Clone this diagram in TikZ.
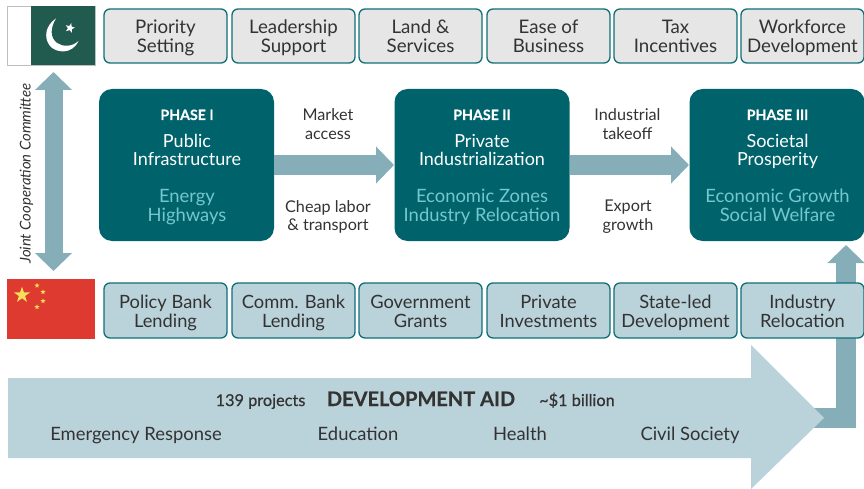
\documentclass[tikz,border=0pt]{standalone}
\usepackage{fontspec}
\setmainfont{Lato}
\usetikzlibrary{arrows.meta,shapes.geometric,calc}
\definecolor{tealdk}{HTML}{00636B}
\definecolor{tealln}{HTML}{0F6F78}
\definecolor{arrowc}{HTML}{86AEB9}
\definecolor{lightc}{HTML}{BAD2D9}
\definecolor{greyc}{HTML}{E6E6E6}
\definecolor{txt}{HTML}{333333}
\definecolor{cyanc}{HTML}{74C6D0}
\definecolor{pkgreen}{HTML}{215A4E}
\definecolor{cnred}{HTML}{DF3A30}
\definecolor{cnyel}{HTML}{F6DF5A}
\newcommand{\twol}[2]{\rule{0pt}{20pt}#1\\#2\rule[-5.5pt]{0pt}{5.5pt}}
\newcommand{\fsz}[1]{\fontsize{#1}{18.5}\selectfont}
\tikzset{
 every node/.style={text=txt,font=\fsz{18},align=center,inner sep=0pt,outer sep=0pt},
 topbox/.style={draw=tealln,line width=1.3pt,rounded corners=6pt,fill=greyc,minimum width=123pt,minimum height=54pt,font=\fsz{18.7}},
 botbox/.style={topbox,fill=lightc,minimum height=55pt,font=\fsz{18.3}},
 phasebox/.style={fill=tealdk,rounded corners=13pt,minimum width=175pt,minimum height=152pt},
 flow/.style={arrowc,line width=20pt,shorten >=0.5pt,-{Triangle[length=18pt,width=36pt]}},
 lab/.style={font=\fsz{16.2}},
 ph/.style={text=white,anchor=base,font=\fontsize{14.2}{14}\selectfont\addfontfeature{FakeBold=0.3}\bfseries},
 ptitle/.style={text=white,font=\fsz{18}},
 psub/.style={text=cyanc,font=\fsz{18.4}},
 aid/.style={anchor=base,font=\fontsize{18.4}{18}\selectfont},
 aidmed/.style={anchor=base,font=\fontsize{16.3}{16}\selectfont\addfontfeature{FakeBold=0.5}}
}
\begin{document}
\lineskiplimit=-100pt
\begin{tikzpicture}[x=1pt,y=-1pt]
\useasboundingbox (0,0) rectangle (864,489);
% flags
\node[draw=black!25,line width=.6pt,fill=white,minimum width=88pt,minimum height=59pt,anchor=north west] (pk) at (7,6) {};
\fill[pkgreen] (31,6) rectangle (95,65);
\fill[white] (78.5,41) .. controls (72,55) and (56,53) .. (50,46) .. controls (43,37) and (46,25) .. (56,18.5) .. controls (50,28) and (50,38) .. (57,43) .. controls (63,47) and (72,47) .. (78.5,41) -- cycle;
\node[star,star points=5,star point ratio=2.4,fill=white,minimum size=10pt,rotate=-15] (pkstar) at (70,28) {};
\node[fill=cnred,minimum width=88pt,minimum height=60pt,anchor=north west] (cn) at (7,279) {};
\node[star,star points=5,star point ratio=2.6,fill=cnyel,minimum size=17pt] (s0) at (22,295) {};
\node[star,star points=5,star point ratio=2.4,fill=cnyel,minimum size=5.5pt] (s1) at (37,285.5) {};
\node[star,star points=5,star point ratio=2.4,fill=cnyel,minimum size=5.5pt] (s2) at (43,292) {};
\node[star,star points=5,star point ratio=2.4,fill=cnyel,minimum size=5.5pt] (s3) at (43,301) {};
\node[star,star points=5,star point ratio=2.4,fill=cnyel,minimum size=5.5pt] (s4) at (37,307) {};
% committee arrow
\coordinate (ca) at (53.5,72);
\coordinate (cb) at (53.5,271);
\draw[arrowc,line width=18pt,{Triangle[length=18pt,width=36pt]}-{Triangle[length=18pt,width=36pt]}] (ca) -- (cb);
\node[rotate=90,font=\itshape\fontsize{14.9}{15}\selectfont] (jcc) at (26.5,173.5) {Joint Cooperation Committee};
% phases
\node[phasebox,anchor=north west] (p1) at (99,89) {};
\node[phasebox,anchor=north west] (p2) at (394.5,89) {};
\node[phasebox,anchor=north west] (p3) at (689.5,89) {};
\draw[flow] (p1.east) -- (p2.west);
\draw[flow] (p2.east) -- (p3.west);
\node[ph] (h1) at (187,120) {PHASE I};
\node[ptitle] (t1a) at (187,149.25) {\twol{Public}{Infrastructure}};
\node[psub] (s1a) at (187,204.6) {\twol{Energy}{Highways}};
\node[ph] (h2) at (482,120) {PHASE II};
\node[ptitle] (t2a) at (482,149.25) {\twol{Private}{Industrialization}};
\node[psub] (s2a) at (482,204.6) {\twol{Economic Zones}{Industry Relocation}};
\node[ph] (h3) at (777.5,120) {PHASE III};
\node[ptitle] (t3a) at (777.5,149.25) {\twol{Societal}{Prosperity}};
\node[psub] (s3a) at (777.5,204.6) {\twol{Economic Growth}{Social Welfare}};
\node[lab] (l1) at (328,122.9) {\twol{Market}{access}};
\node[lab] (l2) at (328,214.25) {\twol{Cheap labor}{\& transport}};
\node[lab] (l3) at (627.5,122.9) {\twol{Industrial}{takeoff}};
\node[lab] (l4) at (628,213.5) {\twol{Export}{growth}};
% top boxes
\node[topbox] (t1) at (165.5,36) {\twol{Priority}{Setting}};
\node[topbox] (t2) at (293.5,36) {\twol{Leadership}{Support}};
\node[topbox] (t3) at (420.5,36) {\twol{Land \&}{Services}};
\node[topbox] (t4) at (548.5,36) {\twol{Ease of}{Business}};
\node[topbox] (t5) at (675.5,36) {\twol{Tax}{Incentives}};
\node[topbox] (t6) at (802.5,36) {\twol{Workforce}{Development}};
% elbow
\coordinate (eb) at (806,418);
\coordinate (ec) at (846,418);
\coordinate (et) at (846,245);
\draw[arrowc,line width=20pt,-{Triangle[length=18pt,width=36pt]}] (eb) -- (ec) -- (et);
% bottom boxes
\node[botbox] (b1) at (165.5,310.5) {\twol{Policy Bank}{Lending}};
\node[botbox] (b2) at (293.5,310.5) {\twol{Comm. Bank}{Lending}};
\node[botbox] (b3) at (420.5,310.5) {\twol{Government}{Grants}};
\node[botbox] (b4) at (548.5,310.5) {\twol{Private}{Investments}};
\node[botbox] (b5) at (675.5,310.5) {\twol{State-led}{Development}};
\node[botbox] (b6) at (802.5,310.5) {\twol{Industry}{Relocation}};
% big arrow
\fill[lightc] (8,378) -- (751,378) -- (751,345) -- (824,418) -- (751,489) -- (751,458) -- (8,458) -- cycle;
\node[aidmed] (a1) at (260.5,406) {139 projects};
\node[anchor=base,font=\fontsize{20}{20}\selectfont\addfontfeature{FakeBold=0.5}\bfseries] (a2) at (421,406) {DEVELOPMENT AID};
\node[aidmed] (a3) at (577,406) {\textasciitilde\$1 billion};
\node[aid] (a4) at (136,440) {Emergency Response};
\node[aid] (a5) at (358,440) {Education};
\node[aid] (a6) at (520,440) {Health};
\node[aid] (a7) at (690,440) {Civil Society};
\end{tikzpicture}
\end{document}
